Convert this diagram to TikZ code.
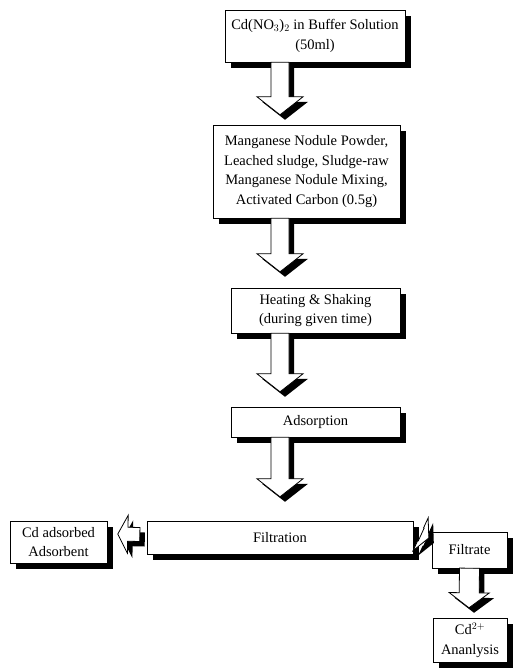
\documentclass[tikz,border=0pt]{standalone}
\usepackage{fontspec}
\setmainfont{Liberation Serif}
\usetikzlibrary{calc}

% outline of a block arrow: from, to, shaft half width, head half width
\newcommand{\arrowpath}[4]{($(#1)!#3!90:(#2)$) -- ($(ah)!#3!90:(#2)$) -- ($(ah)!#4!90:(#2)$) -- (#2) -- ($(ah)!#4!-90:(#2)$) -- ($(ah)!#3!-90:(#2)$) -- ($(#1)!#3!-90:(#2)$) -- cycle}
% block arrow with its black shadow
\newcommand{\blockarrow}[5]{%
  \coordinate (ah) at ($(#2)!#5!(#1)$);
  \fill[black,transform canvas={shift={(5pt,-5pt)}}] \arrowpath{#1}{#2}{#3}{#4};
  \filldraw[fill=white,draw=black,line width=0.8pt] \arrowpath{#1}{#2}{#3}{#4};
}
% box with black shadow: name, centre, width, height, text
\newcommand{\shadowbox}[5]{%
  \fill[black,transform canvas={shift={(6pt,-6pt)}}] ($(#2)+(-#3/2,-#4/2)$) rectangle ($(#2)+(#3/2,#4/2)$);
  \filldraw[fill=white,draw=black,line width=0.8pt] ($(#2)+(-#3/2,-#4/2)$) rectangle ($(#2)+(#3/2,#4/2)$);
  \node[align=center,inner sep=0pt,minimum width=#3,minimum height=#4] (#1) at (#2) {#5};
}

\begin{document}
\begin{tikzpicture}[x=1pt,y=-1pt,font=\fontsize{14.5}{19.5}\selectfont]
        \useasboundingbox (0,0) rectangle (517,670);

        % main column
        \shadowbox{src}{315,36}{180}{52}{Cd(NO$_3$)$_2$ in Buffer Solution\\(50ml)}
        \shadowbox{sorb}{306.5,171.5}{187}{93}{Manganese Nodule Powder,\\Leached sludge, Sludge-raw\\Manganese Nodule Mixing,\\Activated Carbon (0.5g)}
        \shadowbox{heat}{315.5,310.5}{169}{45}{Heating \& Shaking\\(during given time)}
        \shadowbox{ads}{315.5,422}{169}{30}{Adsorption}
        \shadowbox{filt}{280,537.5}{266}{33}{Filtration}

        % side branches
        \shadowbox{solid}{58.5,542}{97}{42}{Cd adsorbed\\Adsorbent}
        \shadowbox{filtrate}{469.5,550}{75}{36}{Filtrate}
        \shadowbox{cd}{470,640}{74}{44}{Cd$^{2+}$\\Ananlysis}

        % arrows down the column
        \coordinate (a1s) at (src.south -| filt.north);
        \coordinate (a1e) at ($(sorb.north -| filt.north)+(0,-10)$);
        \blockarrow{a1s}{a1e}{9pt}{23pt}{18pt}
        \coordinate (a2s) at (sorb.south -| filt.north);
        \coordinate (a2e) at ($(heat.north -| filt.north)+(0,-16)$);
        \blockarrow{a2s}{a2e}{9pt}{23pt}{18pt}
        \coordinate (a3s) at (heat.south -| filt.north);
        \coordinate (a3e) at ($(ads.north -| filt.north)+(0,-15)$);
        \blockarrow{a3s}{a3e}{9pt}{23pt}{18pt}
        \coordinate (a4s) at (ads.south -| filt.north);
        \coordinate (a4e) at ($(filt.north)+(0,-24)$);
        \blockarrow{a4s}{a4e}{9pt}{23pt}{18pt}

        % arrows to the sides
        \coordinate (a5s) at ($(filt.west)+(-7,-3)$);
        \coordinate (a5e) at ($(solid.east -| filt.west)+(-29,-8)$);
        \blockarrow{a5s}{a5e}{7pt}{19pt}{10pt}
        \coordinate (a6s) at ($(filt.east)+(8,-3)$);
        \coordinate (a6e) at ($(filtrate.west)+(-3,-12)$);
        \blockarrow{a6s}{a6e}{7pt}{18pt}{9pt}
        \coordinate (a7s) at (filtrate.south);
        \coordinate (a7e) at ($(cd.north)+(-1,-10)$);
        \blockarrow{a7s}{a7e}{10pt}{20pt}{15pt}
    \end{tikzpicture}
\end{document}
